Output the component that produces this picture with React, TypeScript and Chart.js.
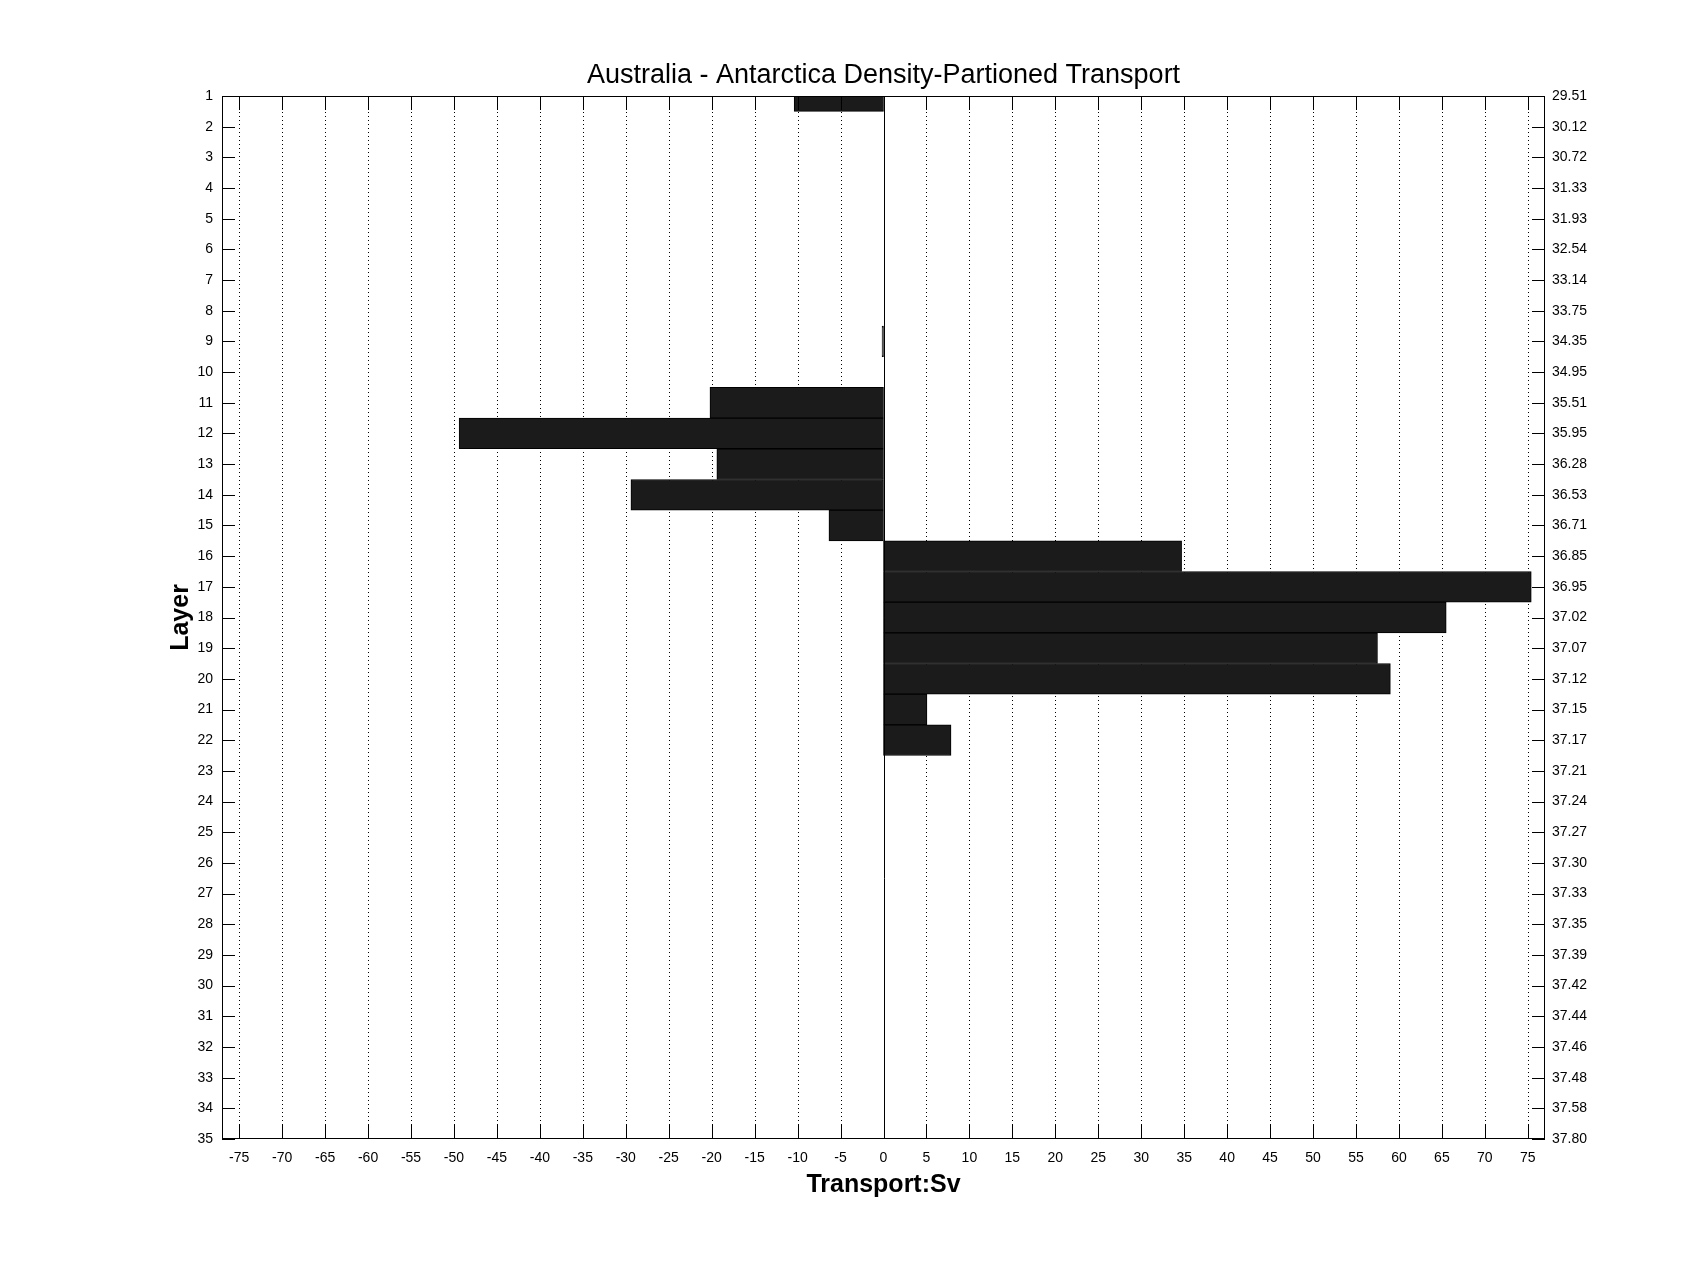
import React, { useEffect, useRef } from 'react';
import { Chart, registerables } from 'chart.js';

Chart.register(...registerables);

const chartTitle = 'Australia - Antarctica Density-Partioned Transport';
const xAxisTitle = 'Transport:Sv';
const yAxisTitle = 'Layer';

const layerLabels = [
  '1', '2', '3', '4', '5', '6', '7', '8', '9', '10',
  '11', '12', '13', '14', '15', '16', '17', '18', '19', '20',
  '21', '22', '23', '24', '25', '26', '27', '28', '29', '30',
  '31', '32', '33', '34', '35',
];

const densityLabels = [
  '29.51', '30.12', '30.72', '31.33', '31.93', '32.54', '33.14', '33.75', '34.35', '34.95',
  '35.51', '35.95', '36.28', '36.53', '36.71', '36.85', '36.95', '37.02', '37.07', '37.12',
  '37.15', '37.17', '37.21', '37.24', '37.27', '37.30', '37.33', '37.35', '37.39', '37.42',
  '37.44', '37.46', '37.48', '37.58', '37.80',
];

// Transport (Sv) per layer, null = no bar
const transportSv = [
  -10.4, null, null, null, null, null, null, null, -0.17, null,
  -20.2, -49.4, -19.4, -29.4, -6.35, 34.7, 75.4, 65.5, 57.5, 59.0,
  5.06, 7.86, null, null, null, null, null, null, null, null,
  null, null, null, null, null,
];

const xTickValues = [
  -75, -70, -65, -60, -55, -50, -45, -40, -35, -30, -25, -20, -15, -10, -5,
  0, 5, 10, 15, 20, 25, 30, 35, 40, 45, 50, 55, 60, 65, 70, 75,
];

const xMin = -77;
const xMax = 77;

const FONT = "'Liberation Sans', Arial, Helvetica, sans-serif";

const matlabAxes = {
  id: 'matlabAxes',
  beforeDatasetsDraw(chart: any) {
    const { ctx, chartArea: a, scales } = chart;
    const xs = scales.x;
    ctx.save();
    ctx.strokeStyle = '#000';
    ctx.lineWidth = 1;
    ctx.setLineDash([1, 3]);
    for (const t of xs.ticks) {
      const px = Math.round(xs.getPixelForValue(t.value)) + 0.5;
      ctx.beginPath();
      ctx.moveTo(px, a.top);
      ctx.lineTo(px, a.bottom);
      ctx.stroke();
    }
    ctx.restore();
  },
  afterDatasetsDraw(chart: any) {
    const { ctx, chartArea: a, scales } = chart;
    const xs = scales.x;
    const ys = scales.y;
    ctx.save();
    ctx.strokeStyle = '#000';
    ctx.lineWidth = 1;
    ctx.setLineDash([]);
    // baseline at zero
    const zx = Math.round(xs.getPixelForValue(0)) + 0.5;
    ctx.beginPath();
    ctx.moveTo(zx, a.top);
    ctx.lineTo(zx, a.bottom);
    ctx.stroke();
    // x ticks (inward, top and bottom)
    const tlx = 14;
    for (const t of xs.ticks) {
      const px = Math.round(xs.getPixelForValue(t.value)) + 0.5;
      ctx.beginPath();
      ctx.moveTo(px, a.bottom);
      ctx.lineTo(px, a.bottom - tlx);
      ctx.moveTo(px, a.top);
      ctx.lineTo(px, a.top + tlx);
      ctx.stroke();
    }
    // y ticks (inward, left and right)
    const tly = 13;
    for (let i = 0; i < ys.ticks.length; i++) {
      const py = Math.round(ys.getPixelForTick(i)) + 0.5;
      ctx.beginPath();
      ctx.moveTo(a.left, py);
      ctx.lineTo(a.left + tly, py);
      ctx.moveTo(a.right, py);
      ctx.lineTo(a.right - tly, py);
      ctx.stroke();
    }
    // box
    ctx.strokeRect(Math.round(a.left) + 0.5, Math.round(a.top) + 0.5,
      Math.round(a.right - a.left) - 1, Math.round(a.bottom - a.top) - 1);
    ctx.restore();
  },
};

export default function App() {
  const canvasRef = useRef<HTMLCanvasElement | null>(null);

  useEffect(() => {
    const canvas = canvasRef.current;
    if (!canvas) return;
    const chart = new Chart(canvas, {
      type: 'bar',
      data: {
        labels: layerLabels,
        datasets: [
          {
            label: 'Transport',
            data: transportSv as any,
            xAxisID: 'x',
            yAxisID: 'y',
            backgroundColor: '#1b1b1b',
            borderColor: '#000000',
            borderWidth: 1,
            borderSkipped: false,
            barPercentage: 1,
            categoryPercentage: 1,
          },
        ],
      },
      options: {
        indexAxis: 'y',
        responsive: false,
        animation: false,
        events: [],
        layout: { padding: { top: 0, left: 0, right: 0, bottom: 0 } },
        plugins: {
          legend: { display: false },
          tooltip: { enabled: false },
          title: {
            display: true,
            text: chartTitle,
            fullSize: false,
            color: '#000',
            font: { family: FONT, size: 27, weight: 'normal' },
            padding: { top: 59.8, bottom: 3.8 },
          },
        },
        scales: {
          x: {
            type: 'linear',
            position: 'bottom',
            min: xMin,
            max: xMax,
            grid: { display: false, drawTicks: false, tickLength: 0 },
            border: { display: false },
            afterBuildTicks: (s: any) => {
              s.ticks = xTickValues.map((v) => ({ value: v }));
            },
            afterFit: (s: any) => {
              s.height = 141;
            },
            ticks: {
              autoSkip: false,
              maxRotation: 0,
              minRotation: 0,
              padding: 11,
              color: '#000',
              font: { family: FONT, size: 14 },
              callback: (v: any) => String(v),
            },
            title: {
              display: true,
              text: xAxisTitle,
              color: '#000',
              font: { family: FONT, size: 25, weight: 'bold' },
              padding: { top: 0, bottom: 80 },
            },
          },
          y: {
            type: 'category',
            position: 'left',
            offset: false,
            grid: { display: false, drawTicks: false, tickLength: 0 },
            border: { display: false },
            afterFit: (s: any) => {
              s.width = 222;
            },
            ticks: {
              autoSkip: false,
              padding: 9,
              color: '#000',
              font: { family: FONT, size: 14 },
            },
            title: {
              display: true,
              text: yAxisTitle,
              color: '#000',
              font: { family: FONT, size: 25, weight: 'bold' },
              padding: { top: 166, bottom: 0 },
            },
          },
          y2: {
            type: 'category',
            axis: 'y',
            position: 'right',
            labels: densityLabels,
            offset: false,
            grid: { display: false, drawTicks: false, tickLength: 0 },
            border: { display: false },
            afterFit: (s: any) => {
              s.width = 162;
            },
            ticks: {
              autoSkip: false,
              padding: 7,
              color: '#000',
              font: { family: FONT, size: 14 },
            },
          },
        },
      } as any,
      plugins: [matlabAxes],
    });
    return () => {
      chart.destroy();
    };
  }, []);

  return (
    <div style={{ position: 'absolute', left: 0, top: 0, width: 1707, height: 1280, background: '#fff' }}>
      <canvas ref={canvasRef} width={1707} height={1280} style={{ width: 1707, height: 1280, display: 'block' }} />
    </div>
  );
}
